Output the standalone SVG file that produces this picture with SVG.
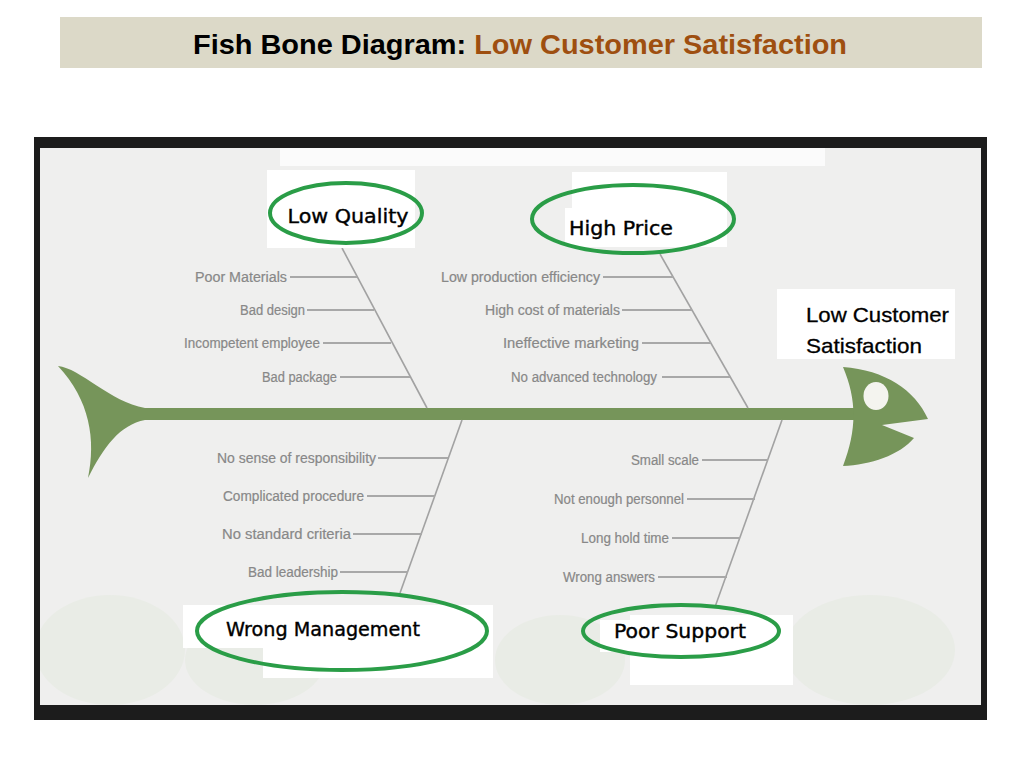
<svg xmlns="http://www.w3.org/2000/svg" width="1024" height="768" viewBox="0 0 1024 768">
<style>
.title{font-family:"Liberation Sans","Noto Sans",sans-serif;font-weight:bold;font-size:27px}
.cause{font-family:"DejaVu Sans","Liberation Sans",sans-serif;font-size:20px;fill:#000;stroke:#000;stroke-width:0.4;text-anchor:middle}
.sub{font-family:"Liberation Sans","DejaVu Sans",sans-serif;font-size:14px;fill:#888;stroke:#888;stroke-width:0.2;text-anchor:end}
.eff{font-family:"Liberation Sans","Noto Sans",sans-serif;font-size:21px;fill:#000;stroke:#000;stroke-width:0.3}
.ring{fill:none;stroke:#2a9d47;stroke-width:4}
.bone{stroke:#a2a2a2;stroke-width:1.6;fill:none}
.twig{stroke:#a8a8a8;stroke-width:2;fill:none}
.fish{fill:#76955a}
.pad{fill:#ffffff}
.blob{fill:#e9ece6}
</style>
<defs>
<clipPath id="inner"><rect x="40" y="148" width="941" height="557"/></clipPath>
</defs>
<rect width="1024" height="768" fill="#ffffff"/>
<g id="title">
<rect x="60" y="17" width="922" height="51" fill="#dcd9c8"/>
<text class="title" x="193" y="54" textLength="654" lengthAdjust="spacingAndGlyphs"><tspan fill="#000">Fish Bone Diagram: </tspan><tspan fill="#9e4f10">Low Customer Satisfaction</tspan></text>
</g>
<g id="frame">
<rect x="34" y="137" width="953" height="583" fill="#1c1c1c"/>
<rect x="40" y="148" width="941" height="557" fill="#efefee"/>
<rect x="280" y="148" width="545" height="18" fill="#fbfbfb"/>
<g clip-path="url(#inner)">
<ellipse class="blob" cx="110" cy="650" rx="75" ry="55"/>
<ellipse class="blob" cx="255" cy="660" rx="70" ry="45"/>
<ellipse class="blob" cx="560" cy="660" rx="65" ry="45"/>
<ellipse class="blob" cx="870" cy="650" rx="85" ry="55"/>
</g>
</g>
<g id="fish">
<path class="fish" d="M58,366 C80,368 110,402 145,408 L145,420 C120,425 104,446 88,478 C96,440 90,400 58,366 Z"/>
<rect class="fish" x="140" y="408" width="714" height="12"/>
<path class="fish" d="M843,367 C885,370 915,390 928,419 L882,425 L914,438 C900,455 870,465 843,466 C857,430 857,400 843,367 Z"/>
<ellipse cx="876" cy="396" rx="12.5" ry="14" fill="#f4f4ef"/>
</g>
<g id="connectors">
<line class="bone" x1="342" y1="248" x2="427" y2="408"/>
<line class="twig" x1="290" y1="277" x2="357" y2="277"/>
<line class="twig" x1="307" y1="310" x2="374" y2="310"/>
<line class="twig" x1="323" y1="343" x2="391" y2="343"/>
<line class="twig" x1="340" y1="377" x2="410" y2="377"/>
<line class="bone" x1="660" y1="254" x2="748" y2="408"/>
<line class="twig" x1="603" y1="277" x2="673" y2="277"/>
<line class="twig" x1="622" y1="310" x2="692" y2="310"/>
<line class="twig" x1="642" y1="343" x2="711" y2="343"/>
<line class="twig" x1="662" y1="377" x2="730" y2="377"/>
<line class="bone" x1="462" y1="420" x2="400" y2="593"/>
<line class="twig" x1="378" y1="458" x2="448" y2="458"/>
<line class="twig" x1="367" y1="496" x2="435" y2="496"/>
<line class="twig" x1="353" y1="534" x2="422" y2="534"/>
<line class="twig" x1="340" y1="572" x2="408" y2="572"/>
<line class="bone" x1="782" y1="420" x2="715" y2="607"/>
<line class="twig" x1="702" y1="460" x2="768" y2="460"/>
<line class="twig" x1="687" y1="499" x2="755" y2="499"/>
<line class="twig" x1="672" y1="538" x2="740" y2="538"/>
<line class="twig" x1="658" y1="577" x2="727" y2="577"/>
</g>
<g id="node-low-quality">
<rect class="pad" x="267" y="170" width="148" height="78"/>
<ellipse class="ring" cx="346" cy="213" rx="76" ry="30"/>
<text class="cause" x="348" y="223" textLength="121" lengthAdjust="spacingAndGlyphs">Low Quality</text>
</g>
<g id="node-high-price">
<rect class="pad" x="572" y="172" width="155" height="75"/>
<rect class="pad" x="565" y="208" width="115" height="38"/>
<ellipse class="ring" cx="633" cy="219" rx="101" ry="34"/>
<text class="cause" x="621" y="235" textLength="104" lengthAdjust="spacingAndGlyphs">High Price</text>
</g>
<g id="node-wrong-management">
<path class="pad" d="M183,605 H493 V678 H263 V648 H183 Z"/>
<ellipse class="ring" cx="342" cy="631" rx="145" ry="39"/>
<text class="cause" x="323" y="636" textLength="194" lengthAdjust="spacingAndGlyphs">Wrong Management</text>
</g>
<g id="node-poor-support">
<rect class="pad" x="630" y="615" width="163" height="70"/>
<rect class="pad" x="600" y="620" width="155" height="32"/>
<ellipse class="ring" cx="681" cy="631" rx="98" ry="26"/>
<text class="cause" x="680" y="638" textLength="132" lengthAdjust="spacingAndGlyphs">Poor Support</text>
</g>
<g id="node-effect">
<rect class="pad" x="777" y="289" width="178" height="70"/>
<text class="eff" x="806" y="322" textLength="143" lengthAdjust="spacingAndGlyphs">Low Customer</text>
<text class="eff" x="806" y="353" textLength="116" lengthAdjust="spacingAndGlyphs">Satisfaction</text>
</g>
<g id="causes-quality">
<text class="sub" x="287" y="282" textLength="92" lengthAdjust="spacingAndGlyphs">Poor Materials</text>
<text class="sub" x="305" y="315" textLength="65" lengthAdjust="spacingAndGlyphs">Bad design</text>
<text class="sub" x="320" y="348" textLength="136" lengthAdjust="spacingAndGlyphs">Incompetent employee</text>
<text class="sub" x="337" y="382" textLength="75" lengthAdjust="spacingAndGlyphs">Bad package</text>
</g>
<g id="causes-price">
<text class="sub" x="600" y="282" textLength="159" lengthAdjust="spacingAndGlyphs">Low production efficiency</text>
<text class="sub" x="620" y="315" textLength="135" lengthAdjust="spacingAndGlyphs">High cost of materials</text>
<text class="sub" x="639" y="348" textLength="136" lengthAdjust="spacingAndGlyphs">Ineffective marketing</text>
<text class="sub" x="657" y="382" textLength="146" lengthAdjust="spacingAndGlyphs">No advanced technology</text>
</g>
<g id="causes-management">
<text class="sub" x="376" y="463" textLength="159" lengthAdjust="spacingAndGlyphs">No sense of responsibility</text>
<text class="sub" x="364" y="501" textLength="141" lengthAdjust="spacingAndGlyphs">Complicated procedure</text>
<text class="sub" x="351" y="539" textLength="129" lengthAdjust="spacingAndGlyphs">No standard criteria</text>
<text class="sub" x="338" y="577" textLength="90" lengthAdjust="spacingAndGlyphs">Bad leadership</text>
</g>
<g id="causes-support">
<text class="sub" x="699" y="465" textLength="68" lengthAdjust="spacingAndGlyphs">Small scale</text>
<text class="sub" x="684" y="504" textLength="130" lengthAdjust="spacingAndGlyphs">Not enough personnel</text>
<text class="sub" x="669" y="543" textLength="88" lengthAdjust="spacingAndGlyphs">Long hold time</text>
<text class="sub" x="655" y="582" textLength="92" lengthAdjust="spacingAndGlyphs">Wrong answers</text>
</g>
</svg>
